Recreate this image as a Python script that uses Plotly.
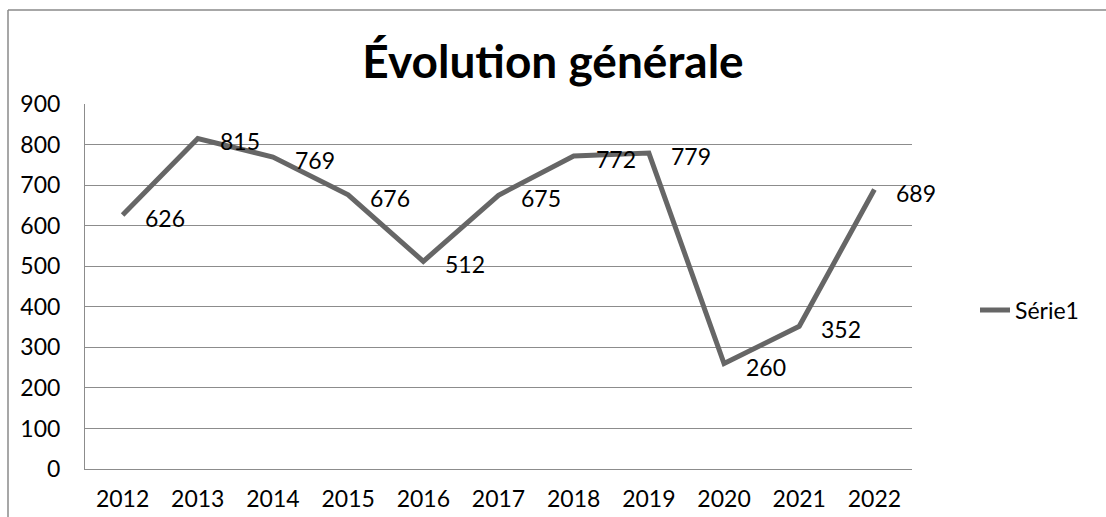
import plotly.graph_objects as go

years = ["2012", "2013", "2014", "2015", "2016", "2017", "2018", "2019", "2020", "2021", "2022"]
values = [626, 815, 769, 676, 512, 675, 772, 779, 260, 352, 689]
series_name = "Série1"
title_text = "<b>Évolution générale</b>"

W, H = 1106, 517
L, R, T, B = 85, 194, 104, 48
FONT = "Lato, Carlito, 'Open Sans', sans-serif"
GRID = "#8c8c8c"
LINE = "#666666"

fig = go.Figure()
fig.add_trace(go.Scatter(
    x=years, y=values,
    mode="lines",
    name=series_name,
    line=dict(color=LINE, width=5),
))

# data labels sit to the right of each point, like Excel's "right" position
for i, v in enumerate(values):
    fig.add_annotation(
        x=i, y=v, text=str(v),
        showarrow=False, xanchor="left", yanchor="middle",
        xshift=20, yshift=-3,
        font=dict(family=FONT, size=23, color="#000000"),
    )

# outer chart border: only the top and left edges fall inside the window
pw, ph = W - L - R, H - T - B
bx0 = (8 - L) / pw
by1 = (H - 10 - B) / ph
border = dict(color="#8a8a8a", width=1.5)
fig.add_shape(type="line", xref="paper", yref="paper",
              x0=bx0, x1=(W - L) / pw, y0=by1, y1=by1, line=border, layer="below")
fig.add_shape(type="line", xref="paper", yref="paper",
              x0=bx0, x1=bx0, y0=-B / ph, y1=by1, line=border, layer="below")

fig.update_layout(
    width=W, height=H,
    margin=dict(l=L, r=R, t=T, b=B, autoexpand=False),
    paper_bgcolor="white", plot_bgcolor="white",
    font=dict(family=FONT, size=23, color="#000000"),
    title=dict(text=title_text, x=(553 - L) / pw, xref="paper", xanchor="center",
               y=1 - 62 / H, yanchor="middle",
               font=dict(family=FONT, size=46, color="#000000")),
    showlegend=True,
    legend=dict(x=(975 - L) / pw, xanchor="left", y=(469 - 310) / ph,
                yanchor="middle", font=dict(family=FONT, size=23),
                bgcolor="rgba(0,0,0,0)", itemwidth=30),
    xaxis=dict(
        type="category", range=[-0.5, len(years) - 0.5],
        showgrid=False, showline=True, linecolor=GRID, linewidth=1,
        ticks="", ticklabelstandoff=9, fixedrange=True, automargin=False,
    ),
    yaxis=dict(
        range=[0, 900], dtick=100, showgrid=True, gridcolor=GRID, gridwidth=1,
        showline=True, linecolor=GRID, linewidth=1, zeroline=False,
        ticks="", ticklabelstandoff=19, fixedrange=True, automargin=False,
    ),
)

# drop the default 8px body margin so the figure sits flush with the window
fig.write_html("out.html", config={"displayModeBar": False},
               post_script="document.body.style.margin='0';")
